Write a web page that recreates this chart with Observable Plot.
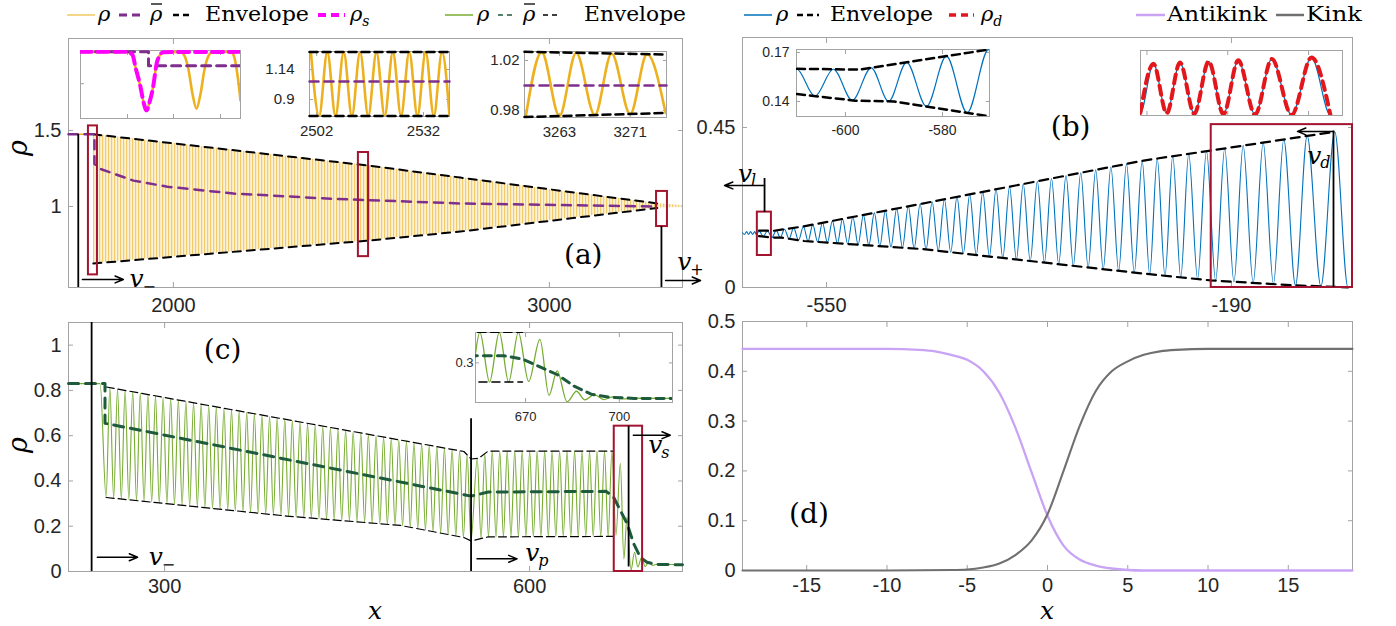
<!DOCTYPE html>
<html><head><meta charset="utf-8">
<script src="https://cdn.jsdelivr.net/npm/d3@7"></script>
<script src="https://cdn.jsdelivr.net/npm/@observablehq/plot@0.6"></script>
<style>
html,body{margin:0;padding:0;background:#fff;}
#fig{position:relative;width:1396px;height:626px;overflow:hidden;background:#fff;}
</style></head><body><div id="fig"></div>
<svg width="0" height="0" style="position:absolute;left:0;top:0">
  <defs>
    <pattern id="stripe" width="3" height="10" patternUnits="userSpaceOnUse">
      <rect width="3" height="10" fill="#fcf2da"/>
      <rect width="1.2" height="10" fill="#EDB120" fill-opacity="0.6"/>
    </pattern>
  </defs>
</svg>
<script>
// ===================== DATA =====================
// ---- Panel (a)
const aXTicks = [2000, 3000];
const aYTicks = [1, 1.5];
const aEnvX = [1787, 2516, 2763, 3287];
const aEnvUp = [1.475, 1.27, 1.19, 1.02];
const aEnvLo = [0.625, 0.775, 0.835, 0.99];
const aBandX = [1787, 2516, 2763, 3287, 3354];
const aBandUp = [1.475, 1.27, 1.19, 1.02, 1.007];
const aBandLo = [0.625, 0.775, 0.835, 0.99, 0.994];
const aLeftX = [1721, 1787];
const aLeftY = [1.475, 1.475];
const aMeanX = [1721, 1790, 1790, 1808, 1840, 1894, 1984, 2160, 2426, 2763, 3287];
const aMeanY = [1.475, 1.475, 1.28, 1.245, 1.217, 1.17, 1.13, 1.085, 1.05, 1.02, 1.0];
const aBoxes = [{x1: 1774, x2: 1798, y1: 0.55, y2: 1.53}, {x1: 2492, x2: 2519, y1: 0.67, y2: 1.355}, {x1: 3285, x2: 3314, y1: 0.868, y2: 1.099}];
const aFronts = [{x: 1747, y1: 0.467, y2: 1.474}, {x: 3298, y1: 0.467, y2: 0.868}];
const aArrows = [{x1: 1758, x2: 1867, y: 0.52}, {x1: 3309, x2: 3402, y: 0.513}];
const aV = [{x: 1883, y: 0.52, sub: "−"}, {x: 3340, y: 0.632, sub: "+"}];
const aPanel = [{x: 3090, y: 0.678, t: "(a)"}];
// inset a1 (zoom on the first box, arbitrary position units)
const a1XTicks = [47, 93, 140], a1YTicks = [0.89];
const a1X = [0, 47, 52, 55, 60, 63, 66, 69, 72, 77, 83, 100, 104, 108, 112, 116, 120, 124, 128, 132, 150, 153, 157, 160];
const a1Y = [1.475, 1.475, 1.42, 1.19, 0.83, 0.55, 0.40, 0.55, 0.77, 1.32, 1.47, 1.475, 1.40, 1.15, 0.70, 0.43, 0.70, 1.15, 1.40, 1.475, 1.475, 1.42, 1.05, 0.58];
const a1SX = [0, 47, 52, 55, 60, 63, 66, 69, 72, 77, 83, 160];
const a1SY = [1.475, 1.475, 1.42, 1.19, 0.83, 0.55, 0.40, 0.55, 0.77, 1.32, 1.47, 1.475];
const a1MX = [0, 68, 68, 160];
const a1MY = [1.475, 1.475, 1.22, 1.22];
// inset a2
const a2XTicks = [2502, 2532], a2YTicks = [0.9, 1.14];
const a2Peaks = [2500.4, 2505.0, 2509.6, 2514.2, 2518.8, 2523.4, 2528.0, 2532.6, 2537.2];
const a2Troughs = [2502.7, 2507.3, 2511.9, 2516.5, 2521.1, 2525.7, 2530.3, 2534.9, 2539.3];
const a2EnvX = [2500, 2539.3], a2EnvUp = [1.28, 1.28], a2EnvLo = [0.768, 0.768];
const a2MeanY = [1.044, 1.044];
// inset a3
const a3XTicks = [3263, 3271], a3YTicks = [0.98, 1.02];
const a3Peaks = [3261.0, 3264.9, 3268.9, 3272.9];
const a3Troughs = [3259.2, 3263.0, 3267.0, 3271.0, 3275.0];
const a3EnvX = [3259.06, 3275.1], a3EnvUp = [1.027, 1.0248], a3EnvLo = [0.9748, 0.978];
const a3MeanY = [1.0, 1.0];

// ---- Panel (b)
const bXTicks = [-550, -190];
const bYTicks = [0, 0.45];
const bHeadX = [-624.7, -622.9, -621.1, -619.3, -617.5, -615.7, -613.9, -612.1];
const bHeadY = [0.154, 0.149, 0.157, 0.149, 0.157, 0.149, 0.157, 0.148];
const bPeakX = [-610.1, -602.5, -594.7, -587.4, -579.2, -570.5, -562.2, -553.6, -544.8, -535.8, -526.6, -517.2, -507.5, -497.7, -487.6, -477.3, -466.8, -456.1, -445.2, -434.0, -422.7, -411.1, -399.3, -387.3, -375.1, -362.6, -350.0, -337.1, -324.0, -310.7, -297.2, -283.3, -269.4, -256.0, -242.2, -228.0, -212.2, -196.0, -179.6, -161.8, -143.5, -122.7, -98.2];
const bTroughX = [-606.3, -598.6, -591.1, -583.3, -574.9, -566.4, -557.9, -549.2, -540.3, -531.2, -521.9, -512.4, -502.6, -492.7, -482.5, -472.1, -461.5, -450.7, -439.6, -428.4, -416.9, -405.2, -393.3, -381.2, -368.9, -356.3, -343.6, -330.6, -317.4, -304.0, -290.3, -276.4, -262.7, -249.1, -235.1, -220.1, -204.1, -187.8, -170.7, -152.7, -133.1, -110.5, -86.4];
const bTailX = [-82.4], bTailY = [0];
const bUpX = [-610, -597, -570.3, -464.7, -268, -208.6, -98.2];
const bUpY = [0.160, 0.1595, 0.1718, 0.236, 0.357, 0.385, 0.438];
const bLoX = [-610, -598, -590, -570, -464.7, -268, -208.6, -134, -98.2, -86.4];
const bLoY = [0.1445, 0.1405, 0.140, 0.1308, 0.108, 0.039, 0.02, 0.006, 0.002, 0.0];
const bRhoDRange = [-204.1, -86.4];
const bBoxes = [{x1: -611.5, x2: -599, y1: 0.09, y2: 0.212}, {x1: -208, x2: -82.4, y1: 0, y2: 0.458}];
const bFronts = [{x: -605.1, y1: 0.211, y2: 0.3066}, {x: -99.3, y1: 0, y2: 0.44}];
const bArrows = [{x1: -605.1, x2: -640.7, y: 0.287}, {x1: -99.3, x2: -131.3, y: 0.439}];
const bV = [{x: -628.6, y: 0.32, sub: "l"}, {x: -122.7, y: 0.371, sub: "d"}];
const bPanel = [{x: -333, y: 0.45, t: "(b)"}];
const bLXTicks = [-600, -580], bLYTicks = [0.14, 0.17];
const bRXTicks = [-200, -150, -100];

// ---- Panel (c)
const cXTicks = [300, 600];
const cYTicks = [0, 0.2, 0.4, 0.6, 0.8, 1];
const cHeadX = [221, 247], cHeadY = [0.83, 0.83];
const cPeakX = [255, 261.3, 267.5, 273.8, 280, 286.3, 292.5, 298.8, 305, 311.3, 317.5, 323.8, 330, 336.3, 342.5, 348.8, 355, 361.3, 367.5, 373.8, 380, 386.3, 392.5, 398.8, 405, 411.3, 417.5, 423.8, 430, 436.3, 442.5, 448.8, 455, 461.3, 467.5, 473.8, 480, 486.3, 492.5, 498.8, 505, 511.3, 517.5, 523.8, 530, 536.3, 542.5, 548.7, 557, 563.2, 569.3, 575.5, 581.6, 587.8, 593.9, 600.1, 606.2, 612.4, 618.5, 624.7, 630.8, 637, 643.1, 649.3, 655.4, 661.6, 667.7];
const cTroughX = [251.9, 258.1, 264.4, 270.6, 276.9, 283.1, 289.4, 295.6, 301.9, 308.1, 314.4, 320.6, 326.9, 333.1, 339.4, 345.6, 351.9, 358.1, 364.4, 370.6, 376.9, 383.1, 389.4, 395.6, 401.9, 408.1, 414.4, 420.6, 426.9, 433.1, 439.4, 445.6, 451.9, 458.1, 464.4, 470.6, 476.9, 483.1, 489.4, 495.6, 501.9, 508.1, 514.4, 520.6, 526.9, 533.1, 539.4, 545.6, 551.8, 560.1, 566.2, 572.4, 578.5, 584.7, 590.8, 597, 603.1, 609.3, 615.4, 621.6, 627.7, 633.9, 640, 646.2, 652.3, 658.5, 664.6];
const cTailX = [671, 674.6, 677.5, 680.1, 683.3, 686.3, 689, 692, 695, 698, 701, 705, 725.7];
const cTailY = [0.16, 0.478, 0.055, 0.24, 0.005, 0.085, 0.02, 0.06, 0.022, 0.042, 0.027, 0.032, 0.03];
const cUpX = [252, 546, 552, 558, 566, 669], cUpY = [0.815, 0.53, 0.497, 0.5, 0.532, 0.532];
const cLoX = [252, 400, 494, 546, 552, 566, 669], cLoY = [0.327, 0.245, 0.2035, 0.15, 0.135, 0.153, 0.155];
const cMeanX = [221, 251, 251, 552, 566, 663, 669, 674.6, 680.1, 685.5, 691, 696.5, 704.7, 725.7];
const cMeanY = [0.83, 0.83, 0.655, 0.333, 0.351, 0.354, 0.329, 0.27, 0.212, 0.124, 0.063, 0.041, 0.031, 0.03];
const cBoxes = [{x1: 669.6, x2: 692.9, y1: 0, y2: 0.642}];
const cFronts = [{x: 240, y1: 0, y2: 1.1}, {x: 551.9, y1: 0, y2: 0.675}, {x: 681.4, y1: 0.02, y2: 0.642}];
const cArrows = [{x1: 244.7, x2: 277.8, y: 0.063}, {x1: 556.8, x2: 589.7, y: 0.056}, {x1: 685.3, x2: 715.7, y: 0.602}];
const cV = [{x: 287, y: 0.062, sub: "−"}, {x: 596.5, y: 0.08, sub: "p"}, {x: 697.6, y: 0.557, sub: "s"}];
const cPanel = [{x: 347.7, y: 0.978, t: "(c)"}];
const cIXTicks = [670, 700], cIYTicks = [0.3];

// ---- Panel (d)
const dXTicks = [-15, -10, -5, 0, 5, 10, 15];
const dYTicks = [0, 0.1, 0.2, 0.3, 0.4, 0.5];
const dAntiX = [-19, -10, -8, -7, -6, -5, -4, -3, -2, -1, 0, 1, 2, 3, 4, 5, 6, 19];
const dAntiY = [0.445, 0.445, 0.443, 0.44, 0.433, 0.423, 0.40, 0.357, 0.287, 0.198, 0.11, 0.05, 0.022, 0.01, 0.004, 0.001, 0, 0];
const dKinkX = [-19, -10, -6, -5, -4, -3, -2, -1, 0, 1, 2, 3, 4, 5, 6, 7, 8, 10, 19];
const dKinkY = [0, 0, 0.001, 0.002, 0.006, 0.014, 0.031, 0.06, 0.113, 0.2, 0.29, 0.36, 0.40, 0.42, 0.433, 0.44, 0.443, 0.445, 0.445];
const dPanel = [{x: -14.86, y: 0.114, t: "(d)"}];

// legend labels (a bar is drawn over ρ for ρ̄)
const legA = ["ρ", "ρ", "Envelope", "ρ", "s"];
const legC = ["ρ", "ρ", "Envelope"];
const legB = ["ρ", "Envelope", "ρ", "d"];
const legD = ["Antikink", "Kink"];
const axisTitles = {y: "ρ", x: "x"};

// ===================== DRAWING =====================
const FRAME = "#a3a3a3", TXT = "#262626", SERIF = "DejaVu Serif";
const YEL = "#EDB120", PUR = "#7E2F8E", MAG = "#FF00FF", BLU = "#0072BD", REDD = "#E3171B",
      GRN = "#77AC30", DGRN = "#1E5A3C", BOX = "#A2142F", LAV = "#C9A3F4", GRY = "#707070";
const fig = document.getElementById("fig");
const STYLE = "font-family:'Liberation Sans',Arial,sans-serif;font-size:20px;color:#262626;overflow:visible;background:transparent;";
function place(el, left, top) {
  el.style.position = "absolute"; el.style.left = left + "px"; el.style.top = top + "px";
  fig.appendChild(el);
}
const zip = (X, Y) => X.map((x, i) => ({x, y: Y[i]}));
function osc(peaks, troughs, upX, upY, loX, loY, headX = [], headY = [], tailX = [], tailY = []) {
  const U = d3.scaleLinear(upX, upY).clamp(true);
  const L = d3.scaleLinear(loX, loY).clamp(true);
  const rows = [];
  headX.forEach((x, i) => rows.push({x, y: headY[i]}));
  peaks.forEach(x => rows.push({x, y: U(x)}));
  troughs.forEach(x => rows.push({x, y: L(x)}));
  tailX.forEach((x, i) => rows.push({x, y: tailY[i]}));
  return rows.sort((a, b) => a.x - b.x);
}
const fmt = d => String(d);
function axes(xt, yt, {ts = -5, fs = 20, padX = 14, padY = 12, labels = true} = {}) {
  const m = [
    Plot.axisX(xt, {anchor: "bottom", tickSize: ts, stroke: FRAME, fill: "none", label: null}),
    Plot.axisX(xt, {anchor: "top", tickSize: ts, stroke: FRAME, fill: "none", label: null}),
    Plot.axisY(yt, {anchor: "left", tickSize: ts, stroke: FRAME, fill: "none", label: null}),
    Plot.axisY(yt, {anchor: "right", tickSize: ts, stroke: FRAME, fill: "none", label: null})
  ];
  if (labels) {
    m.push(Plot.axisX(xt, {anchor: "bottom", tickSize: ts, tickPadding: padX, stroke: "none", fill: TXT, fontSize: fs, tickFormat: fmt, label: null}));
    m.push(Plot.axisY(yt, {anchor: "left", tickSize: ts, tickPadding: padY, stroke: "none", fill: TXT, fontSize: fs, tickFormat: fmt, label: null}));
  }
  m.push(Plot.frame({stroke: FRAME, strokeWidth: 1}));
  return m;
}
function vLabels(data) {
  return [
    Plot.text(data, {x: "x", y: "y", text: () => "v", fontFamily: SERIF, fontStyle: "italic", fontSize: 25, textAnchor: "start", fill: "black"}),
    Plot.text(data, {x: "x", y: "y", text: "sub", dx: 13, dy: 7, fontFamily: SERIF, fontStyle: "italic", fontSize: 16, textAnchor: "start", fill: "black"})
  ];
}
const panelLabel = d => Plot.text(d, {x: "x", y: "y", text: "t", fontFamily: SERIF, fontSize: 28, fill: "black"});
const boxes = d => Plot.rect(d, {x1: "x1", x2: "x2", y1: "y1", y2: "y2", stroke: BOX, strokeWidth: 2, fill: "none"});
const fronts = d => Plot.ruleX(d, {x: "x", y1: "y1", y2: "y2", stroke: "black", strokeWidth: 1.8});
const arrows = d => Plot.arrow(d, {x1: "x1", x2: "x2", y1: "y", y2: "y", stroke: "black", strokeWidth: 1.5, headLength: 9, headAngle: 45});
const L = (data, o) => Plot.line(data, {x: "x", y: "y", ...o});

// ---------- (a) ----------
const aBand = aBandX.map((x, i) => ({x, lo: aBandLo[i], hi: aBandUp[i]}));
place(Plot.plot({
  width: 700, height: 300, marginLeft: 68, marginRight: 18, marginTop: 8, marginBottom: 43,
  x: {domain: [1721, 3354], axis: null}, y: {domain: [0.467, 2.105], axis: null}, style: STYLE,
  marks: [
    ...axes(aXTicks, aYTicks, {padX: 15}),
    Plot.areaY(aBand, {x: "x", y1: "lo", y2: "hi", fill: "url(#stripe)"}),
    L(zip(aLeftX, aLeftY), {stroke: YEL, strokeWidth: 1.5}),
    L(zip(aEnvX, aEnvUp), {stroke: "black", strokeWidth: 2, strokeDasharray: "8,6"}),
    L(zip(aEnvX, aEnvLo), {stroke: "black", strokeWidth: 2, strokeDasharray: "8,6"}),
    L(zip(aMeanX, aMeanY), {stroke: PUR, strokeWidth: 2.5, strokeDasharray: "9,7"}),
    boxes(aBoxes), fronts(aFronts), arrows(aArrows), ...vLabels(aV), panelLabel(aPanel)
  ]
}), 0, 30);

// ---------- (b) ----------
const bTable = osc(bPeakX, bTroughX, bUpX, bUpY, bLoX, bLoY, bHeadX, bHeadY, bTailX, bTailY);
const bRhoD = bTable.filter(d => d.x >= bRhoDRange[0] && d.x <= bRhoDRange[1]);
place(Plot.plot({
  width: 696, height: 300, marginLeft: 42, marginRight: 44, marginTop: 7, marginBottom: 43,
  x: {domain: [-624.7, -82.4], axis: null}, y: {domain: [0, 0.703], axis: null}, style: STYLE,
  marks: [
    ...axes(bXTicks, bYTicks, {padX: 15}),
    L(bTable, {stroke: BLU, strokeWidth: 1.1, curve: "monotone-x"}),
    L(zip(bUpX, bUpY), {stroke: "black", strokeWidth: 2.2, strokeDasharray: "9,6"}),
    L(zip(bLoX, bLoY), {stroke: "black", strokeWidth: 2.2, strokeDasharray: "9,6"}),
    boxes(bBoxes), fronts(bFronts), arrows(bArrows), ...vLabels(bV), panelLabel(bPanel)
  ]
}), 700, 30);

// ---------- (c) ----------
const cTable = osc(cPeakX, cTroughX, cUpX, cUpY, cLoX, cLoY, cHeadX, cHeadY, cTailX, cTailY);
place(Plot.plot({
  width: 700, height: 310, marginLeft: 68, marginRight: 18, marginTop: 6, marginBottom: 55,
  x: {domain: [221, 725.7], axis: null}, y: {domain: [0, 1.1], axis: null}, style: STYLE,
  marks: [
    ...axes(cXTicks, cYTicks, {padX: 12}),
    L(cTable, {stroke: GRN, strokeWidth: 1.1, curve: "monotone-x"}),
    L(zip(cUpX, cUpY), {stroke: "black", strokeWidth: 1.2, strokeDasharray: "8,4"}),
    L(zip(cLoX, cLoY), {stroke: "black", strokeWidth: 1.2, strokeDasharray: "8,4"}),
    L(zip(cMeanX, cMeanY), {stroke: DGRN, strokeWidth: 3, strokeDasharray: "10,7"}),
    boxes(cBoxes), fronts(cFronts), arrows(cArrows), ...vLabels(cV), panelLabel(cPanel)
  ]
}), 0, 316);

// ---------- (d) ----------
place(Plot.plot({
  width: 696, height: 310, marginLeft: 42, marginRight: 44, marginTop: 5, marginBottom: 56,
  x: {domain: [-19, 19], axis: null}, y: {domain: [0, 0.5], axis: null}, style: STYLE,
  marks: [
    ...axes(dXTicks, dYTicks, {padX: 12}),
    L(zip(dAntiX, dAntiY), {stroke: LAV, strokeWidth: 2.3, curve: "monotone-x"}),
    L(zip(dKinkX, dKinkY), {stroke: GRY, strokeWidth: 2.1, curve: "monotone-x"}),
    panelLabel(dPanel)
  ]
}), 700, 316);

// ---------- insets ----------
function inset({left, top, w, h, mL = 1, mR = 1, mT = 1, mB = 1, xd, yd, xt, yt, fs = 15, padX = 12.7, padY = 12, labels = true, marks}) {
  place(Plot.plot({
    width: w, height: h, marginLeft: mL, marginRight: mR, marginTop: mT, marginBottom: mB,
    x: {domain: xd, axis: null}, y: {domain: yd, axis: null}, style: STYLE,
    marks: [Plot.frame({fill: "white", stroke: "none"}), ...axes(xt, yt, {ts: -4, fs, padX, padY, labels}), ...marks]
  }), left, top);
}
// a1
inset({left: 79, top: 49, w: 162, h: 70, xd: [0, 160], yd: [0.25, 1.5], xt: a1XTicks, yt: a1YTicks, labels: false, marks: [
  L(zip(a1X, a1Y), {stroke: YEL, strokeWidth: 2.6, curve: "monotone-x", clip: true}),
  L(zip(a1MX, a1MY), {stroke: PUR, strokeWidth: 3, strokeDasharray: "9,6", clip: true}),
  L(zip(a1SX, a1SY), {stroke: MAG, strokeWidth: 4, strokeDasharray: "11,6", curve: "monotone-x", clip: true})
]});
// a2
const a2Table = osc(a2Peaks, a2Troughs, a2EnvX, a2EnvUp, a2EnvX, a2EnvLo);
inset({left: 259, top: 49, w: 193, h: 95, mL: 50, mR: 3, mT: 2, mB: 28, xd: [2500, 2539.3], yd: [0.764, 1.284], xt: a2XTicks, yt: a2YTicks, padY: 19, marks: [
  L(a2Table, {stroke: YEL, strokeWidth: 2.6, curve: "monotone-x", clip: true}),
  L(zip(a2EnvX, a2EnvUp), {stroke: "black", strokeWidth: 2.5, strokeDasharray: "8,5"}),
  L(zip(a2EnvX, a2EnvLo), {stroke: "black", strokeWidth: 2.5, strokeDasharray: "8,5"}),
  L(zip(a2EnvX, a2MeanY), {stroke: PUR, strokeWidth: 2.5, strokeDasharray: "9,6"})
]});
// a3
const a3Table = osc(a3Peaks, a3Troughs, a3EnvX, a3EnvUp, a3EnvX, a3EnvLo);
inset({left: 484, top: 49, w: 185, h: 96, mL: 40, mR: 3, mT: 2, mB: 28, xd: [3259.06, 3275.1], yd: [0.9744, 1.0272], xt: a3XTicks, yt: a3YTicks, padY: 9, marks: [
  L(a3Table, {stroke: YEL, strokeWidth: 2.6, curve: "monotone-x", clip: true}),
  L(zip(a3EnvX, a3EnvUp), {stroke: "black", strokeWidth: 2.5, strokeDasharray: "8,5"}),
  L(zip(a3EnvX, a3EnvLo), {stroke: "black", strokeWidth: 2.5, strokeDasharray: "8,5"}),
  L(zip(a3EnvX, a3MeanY), {stroke: PUR, strokeWidth: 2.5, strokeDasharray: "9,6"})
]});
// b left
inset({left: 751, top: 47, w: 241, h: 97, mL: 45, mR: 3, mT: 2, mB: 28, xd: [-610.1, -570.3], yd: [0.1308, 0.1718], xt: bLXTicks, yt: bLYTicks, fs: 14, padY: 11, marks: [
  L(bTable, {stroke: BLU, strokeWidth: 1.2, curve: "monotone-x", clip: true}),
  L(zip(bUpX, bUpY), {stroke: "black", strokeWidth: 2.5, strokeDasharray: "8,5", clip: true}),
  L(zip(bLoX, bLoY), {stroke: "black", strokeWidth: 2.5, strokeDasharray: "8,5", clip: true})
]});
// b right
inset({left: 1139, top: 49, w: 204, h: 67, xd: [-204, -79], yd: [0, 0.49], xt: bRXTicks, yt: [], labels: false, marks: [
  L(bTable, {stroke: BLU, strokeWidth: 1.2, curve: "monotone-x", clip: true}),
  L(bRhoD, {stroke: REDD, strokeWidth: 4, strokeDasharray: "9,6", curve: "monotone-x", clip: true})
]});
// c inset
inset({left: 440, top: 330, w: 235, h: 100, mL: 35, mR: 3, mT: 2, mB: 28, xd: [654, 717], yd: [0, 0.53], xt: cIXTicks, yt: cIYTicks, fs: 13, padX: 13.5, padY: 6, marks: [
  L(cTable, {stroke: GRN, strokeWidth: 1.3, curve: "monotone-x", clip: true}),
  L(zip(cUpX, cUpY), {stroke: "black", strokeWidth: 1.6, strokeDasharray: "8,5", clip: true}),
  L(zip(cLoX, cLoY), {stroke: "black", strokeWidth: 1.6, strokeDasharray: "8,5", clip: true}),
  L(zip(cMeanX, cMeanY), {stroke: DGRN, strokeWidth: 3, strokeDasharray: "8,6", clip: true})
]});

// ---------- legends and axis titles (SVG overlay) ----------
const ln = (x1, x2, c, w, dash, op = 1) => `<line x1="${x1}" x2="${x2}" y1="15" y2="15" stroke="${c}" stroke-width="${w}" stroke-opacity="${op}"${dash ? ` stroke-dasharray="${dash}"` : ""}/>`;
const it = (x, s, sub) => `<text x="${x}" y="21" font-style="italic">${s}${sub ? `<tspan font-size="14" dy="5">${sub}</tspan>` : ""}</text>`;
const bar = x => `<line x1="${x + 1}" x2="${x + 12}" y1="4" y2="4" stroke="black" stroke-width="1.3"/>`;
const up = (x, s, len) => `<text x="${x}" y="21" textLength="${len}" lengthAdjust="spacingAndGlyphs">${s}</text>`;
const over = `<svg xmlns="http://www.w3.org/2000/svg" width="1396" height="626" style="position:absolute;left:0;top:0;pointer-events:none;overflow:visible" font-family="${SERIF}" font-size="21" fill="black">
${ln(67, 95, YEL, 1.5, null, 0.7)}${it(98, legA[0])}
${ln(119, 145, PUR, 3, "8,5")}${it(150, legA[1])}${bar(150)}
${ln(173, 191, "black", 2.5, "6,4")}${up(205, legA[2], 104)}
${ln(318, 345, MAG, 4, "8,5")}${it(350, legA[3], legA[4])}
${ln(445, 473, GRN, 1.5)}${it(477, legC[0])}
${ln(498, 516, DGRN, 1.5, "5,4")}${it(523, legC[1])}${bar(523)}
${ln(543, 561, "black", 1.5, "5,4")}${up(584, legC[2], 102)}
${ln(744, 772, BLU, 1.5)}${it(776, legB[0])}
${ln(797, 819, "black", 2.5, "6,4")}${up(830, legB[1], 103)}
${ln(949, 974, REDD, 3.5, "7,5")}${it(981, legB[2], legB[3])}
${ln(1136, 1165, LAV, 2.5)}${up(1167, legD[0], 100)}
${ln(1276, 1304, GRY, 2.5)}${up(1306, legD[1], 56)}
<text x="0" y="0" font-size="27" font-style="italic" text-anchor="middle" transform="translate(27 148) rotate(-90)">${axisTitles.y}</text>
<text x="0" y="0" font-size="27" font-style="italic" text-anchor="middle" transform="translate(27 445) rotate(-90)">${axisTitles.y}</text>
<text x="375" y="619" font-size="25" font-style="italic" text-anchor="middle">${axisTitles.x}</text>
<text x="1047" y="619" font-size="25" font-style="italic" text-anchor="middle">${axisTitles.x}</text>
</svg>`;
fig.insertAdjacentHTML("beforeend", over);
</script></body></html>
